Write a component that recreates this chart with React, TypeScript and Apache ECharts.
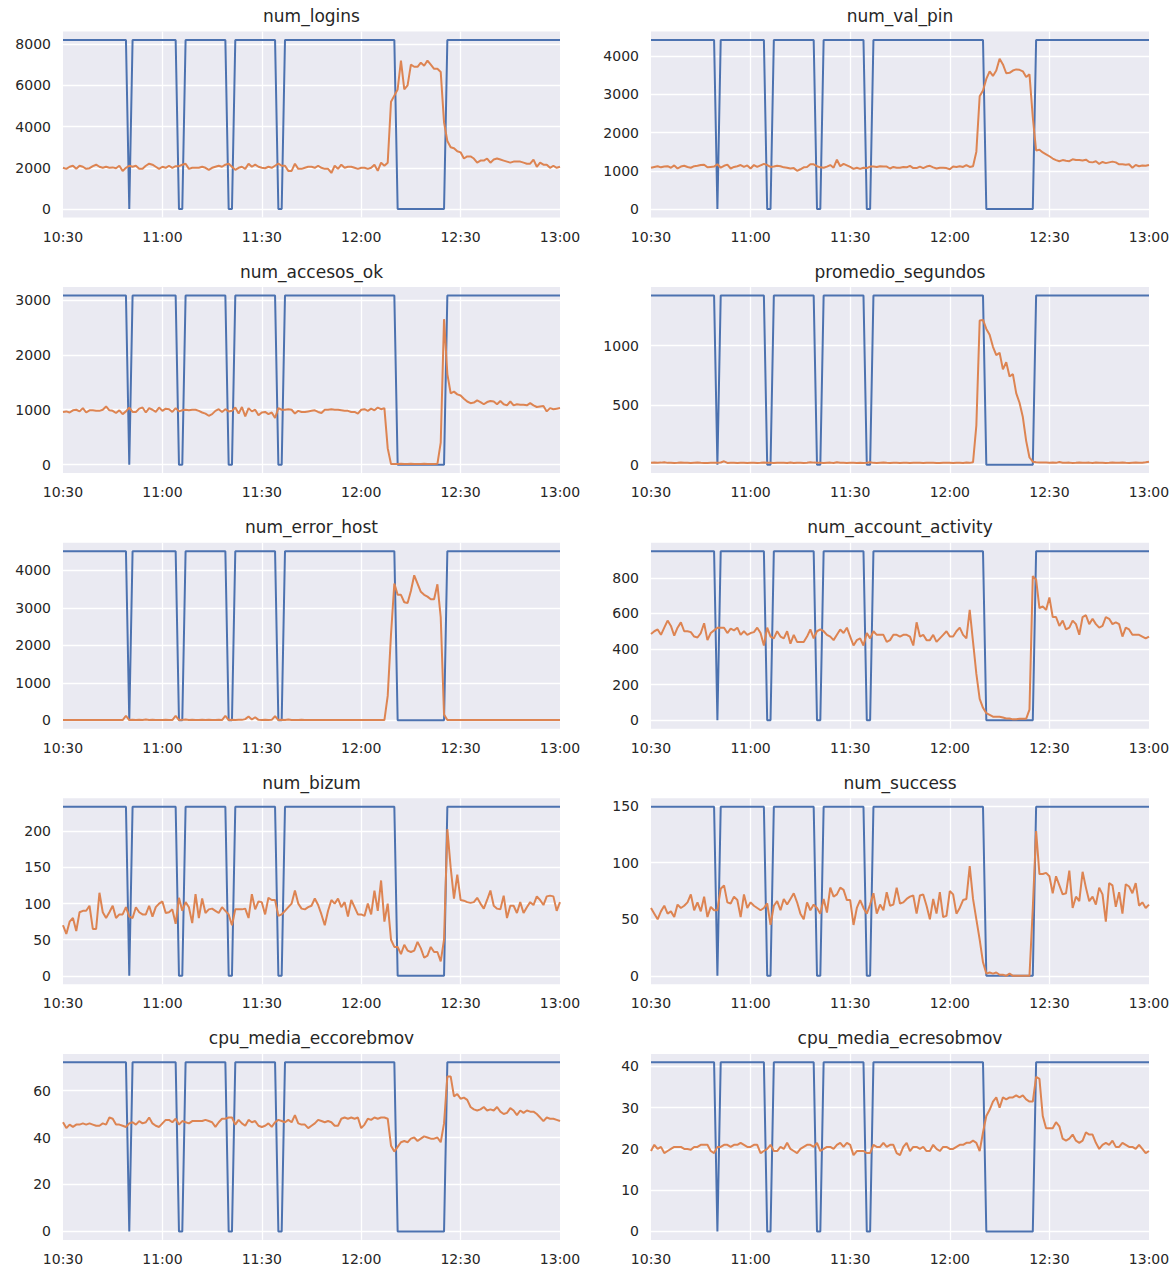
import React, { useEffect, useRef } from 'react';
import * as echarts from 'echarts';

// minutes after 10:30, one sample per minute (0..150)
const X_LABELS = ['10:30', '11:00', '11:30', '12:00', '12:30', '13:00'];

// anomaly flag: 1 = normal (drawn at the panel level), 0 = anomaly
const ANOMALY = [
  1, 1, 1, 1, 1, 1, 1, 1, 1, 1,
  1, 1, 1, 1, 1, 1, 1, 1, 1, 1,
  0, 1, 1, 1, 1, 1, 1, 1, 1, 1,
  1, 1, 1, 1, 1, 0, 0, 1, 1, 1,
  1, 1, 1, 1, 1, 1, 1, 1, 1, 1,
  0, 0, 1, 1, 1, 1, 1, 1, 1, 1,
  1, 1, 1, 1, 1, 0, 0, 1, 1, 1,
  1, 1, 1, 1, 1, 1, 1, 1, 1, 1,
  1, 1, 1, 1, 1, 1, 1, 1, 1, 1,
  1, 1, 1, 1, 1, 1, 1, 1, 1, 1,
  1, 0, 0, 0, 0, 0, 0, 0, 0, 0,
  0, 0, 0, 0, 0, 0, 1, 1, 1, 1,
  1, 1, 1, 1, 1, 1, 1, 1, 1, 1,
  1, 1, 1, 1, 1, 1, 1, 1, 1, 1,
  1, 1, 1, 1, 1, 1, 1, 1, 1, 1,
  1,
];

const NUM_LOGINS = [
  2000, 1950, 2050, 2100, 1950, 2100, 2050, 1950, 1980, 2080,
  2150, 2050, 2000, 2050, 2000, 2020, 1980, 2100, 1850, 2000,
  2100, 2050, 2100, 1950, 1950, 2100, 2200, 2150, 2050, 1950,
  2050, 2000, 2100, 2000, 2080, 2080, 2150, 2200, 1950, 2000,
  2000, 2000, 2050, 2000, 1900, 2000, 2050, 2100, 2050, 2150,
  2200, 2050, 1900, 2000, 2050, 1950, 2200, 2050, 2150, 2050,
  2000, 1980, 2050, 2000, 2100, 2200, 2100, 2100, 1850, 1850,
  2200, 1950, 1950, 2000, 2050, 2050, 2000, 2100, 2000, 1950,
  1950, 1750, 2100, 1950, 2150, 2000, 2050, 2050, 2000, 1950,
  2000, 2000, 1950, 2000, 2150, 1850, 2250, 2100, 2250, 5200,
  5500, 5800, 7200, 5800, 6000, 7000, 6900, 6900, 7100, 6950,
  7200, 7000, 6800, 6800, 6650, 4200, 3300, 3000, 2950, 2800,
  2750, 2450, 2550, 2550, 2450, 2250, 2350, 2350, 2450, 2250,
  2400, 2450, 2400, 2350, 2300, 2250, 2300, 2300, 2300, 2250,
  2200, 2200, 2400, 2050, 2250, 2150, 2150, 2000, 2100, 2000,
  2050,
];

const NUM_VAL_PIN = [
  1080, 1100, 1120, 1090, 1110, 1120, 1080, 1140, 1060, 1110,
  1130, 1100, 1080, 1120, 1130, 1150, 1160, 1090, 1100, 1110,
  1170, 1080, 1130, 1160, 1060, 1100, 1120, 1150, 1100, 1140,
  1060, 1150, 1100, 1140, 1180, 1150, 1100, 1110, 1130, 1120,
  1090, 1080, 1060, 1070, 1000, 1040, 1090, 1100, 1170, 1170,
  1120, 1090, 1080, 1110, 1150, 1080, 1290, 1120, 1180, 1140,
  1100, 1050, 1080, 1050, 1080, 1070, 1110, 1110, 1100, 1120,
  1110, 1110, 1060, 1100, 1080, 1080, 1100, 1090, 1130, 1070,
  1070, 1110, 1070, 1110, 1130, 1090, 1060, 1080, 1080, 1070,
  1040, 1110, 1100, 1120, 1100, 1150, 1100, 1120, 1500, 2950,
  3100, 3400, 3600, 3480, 3620, 3930, 3780, 3550, 3560, 3620,
  3650, 3640, 3600, 3450, 3520, 2400, 1530, 1550, 1480, 1430,
  1380, 1320, 1280, 1250, 1280, 1260, 1250, 1300, 1280, 1280,
  1270, 1290, 1230, 1220, 1250, 1180, 1230, 1200, 1220, 1240,
  1220, 1170, 1170, 1160, 1170, 1080, 1150, 1120, 1140, 1130,
  1150,
];

const NUM_ACCESOS_OK = [
  960, 970, 950, 990, 1000, 970, 1030, 950, 990, 990,
  980, 980, 1000, 1060, 990, 980, 940, 990, 920, 970,
  1040, 960, 960, 1020, 1040, 950, 1030, 1000, 960, 1040,
  980, 1020, 1010, 960, 1030, 970, 990, 1000, 990, 1000,
  1000, 980, 950, 930, 890, 920, 980, 1010, 960, 1010,
  970, 980, 1040, 930, 1050, 880, 1030, 970, 1000, 900,
  950, 960, 920, 950, 850, 1030, 1000, 1000, 1010, 1000,
  930, 980, 960, 960, 970, 980, 990, 960, 940, 1000,
  1000, 1010, 1000, 1000, 990, 980, 980, 960, 960, 930,
  1000, 1010, 980, 1020, 990, 1040, 1010, 1030, 300, 10,
  10, 10, 15, 10, 10, 15, 10, 10, 10, 15,
  10, 10, 10, 15, 400, 2650, 1650, 1300, 1330, 1280,
  1260, 1200, 1150, 1120, 1130, 1170, 1140, 1100, 1140, 1160,
  1150, 1100, 1160, 1100, 1080, 1150, 1080, 1100, 1090, 1090,
  1080, 1120, 1080, 1050, 1060, 1070, 970, 1030, 1010, 1020,
  1030,
];

const PROMEDIO_SEGUNDOS = [
  15, 18, 16, 17, 20, 15, 16, 14, 15, 17,
  16, 15, 14, 16, 18, 15, 14, 13, 15, 16,
  15, 18, 28, 14, 16, 15, 14, 16, 15, 14,
  16, 15, 14, 15, 17, 16, 15, 14, 15, 16,
  15, 14, 18, 13, 16, 15, 14, 16, 20, 17,
  16, 15, 14, 16, 17, 14, 20, 16, 15, 14,
  15, 16, 14, 15, 14, 16, 20, 15, 14, 16,
  17, 15, 14, 16, 15, 14, 15, 16, 14, 15,
  16, 15, 14, 15, 16, 15, 14, 13, 15, 16,
  15, 14, 16, 15, 14, 18, 15, 20, 330, 1210,
  1215, 1140, 1090, 990, 920, 940, 800, 860, 740, 760,
  600, 520, 400, 200, 60, 25, 20, 18, 17, 18,
  16, 17, 15, 22, 16, 15, 17, 14, 15, 18,
  16, 15, 17, 14, 18, 15, 16, 14, 15, 17,
  16, 15, 17, 15, 14, 16, 18, 15, 16, 20,
  25,
];

const NUM_ERROR_HOST = [
  5, 5, 5, 5, 5, 5, 5, 5, 5, 5,
  5, 5, 5, 5, 5, 5, 5, 5, 5, 120,
  5, 10, 5, 10, 5, 20, 5, 10, 5, 5,
  5, 10, 5, 5, 120, 5, 10, 20, 5, 10,
  5, 5, 10, 5, 10, 5, 5, 10, 5, 120,
  5, 10, 5, 10, 10, 30, 100, 20, 80, 10,
  5, 10, 5, 10, 110, 5, 10, 5, 20, 5,
  5, 5, 10, 5, 5, 5, 5, 5, 5, 5,
  5, 5, 5, 5, 5, 5, 5, 5, 5, 5,
  5, 5, 5, 5, 5, 5, 5, 5, 650, 2300,
  3650, 3350, 3350, 3150, 3130, 3450, 3870, 3650, 3430, 3350,
  3300, 3230, 3230, 3630, 2750, 150, 5, 5, 5, 5,
  5, 5, 5, 5, 5, 5, 5, 5, 5, 5,
  5, 5, 5, 5, 5, 5, 5, 5, 5, 5,
  5, 5, 5, 5, 5, 5, 5, 5, 5, 5,
  5,
];

const NUM_ACCOUNT_ACTIVITY = [
  485, 500, 510, 480, 520, 560, 530, 475, 520, 550,
  500, 500, 495, 470, 465, 490, 545, 450, 490, 505,
  520, 520, 520, 490, 515, 505, 520, 480, 500, 480,
  490, 495, 520, 490, 420, 520, 470, 460, 500, 470,
  460, 500, 430, 480, 440, 440, 440, 470, 510, 460,
  500, 510, 500, 480, 470, 450, 480, 510, 490, 520,
  470, 420, 450, 460, 420, 490, 460, 500, 480, 480,
  480, 440, 450, 480, 480, 470, 480, 480, 470, 420,
  550, 470, 480, 450, 450, 480, 440, 460, 480, 500,
  470, 470, 500, 520, 480, 460, 620, 440, 260, 120,
  70, 40, 30, 20, 20, 20, 15, 10, 10, 5,
  5, 8, 8, 8, 60, 810, 790, 630, 640, 620,
  690, 580, 580, 530, 560, 510, 520, 560, 540, 480,
  580, 590, 540, 570, 540, 520, 530, 580, 570, 540,
  550, 540, 470, 520, 510, 480, 480, 480, 470, 460,
  470,
];

const NUM_BIZUM = [
  70, 58, 75, 80, 62, 88, 90, 90, 97, 65,
  65, 115, 88, 80, 88, 97, 80, 85, 85, 95,
  82, 80, 95, 88, 85, 85, 97, 82, 95, 100,
  103, 87, 88, 92, 72, 108, 90, 102, 95, 73,
  113, 80, 107, 87, 92, 93, 90, 87, 95, 90,
  85, 70, 92, 92, 92, 93, 80, 113, 92, 103,
  102, 85, 108, 105, 105, 83, 85, 90, 95, 100,
  118, 100, 93, 92, 95, 97, 107, 98, 85, 70,
  90, 105, 100, 107, 95, 102, 82, 105, 95, 85,
  85, 83, 100, 85, 118, 90, 132, 75, 100, 50,
  40, 40, 30, 43, 35, 33, 35, 47, 38, 25,
  28, 40, 33, 33, 20, 50, 203, 150, 107, 140,
  105, 104, 102, 101, 102, 108, 100, 93, 105, 118,
  97, 93, 92, 111, 80, 97, 97, 87, 102, 87,
  95, 102, 98, 110, 105, 98, 110, 111, 110, 90,
  102,
];

const NUM_SUCCESS = [
  60, 55, 50, 57, 62, 55, 57, 52, 63, 60,
  62, 65, 72, 58, 65, 57, 70, 52, 61, 58,
  58, 77, 80, 65, 64, 70, 67, 52, 72, 60,
  65, 62, 60, 58, 60, 64, 45, 62, 66, 58,
  68, 63, 68, 73, 65, 55, 50, 65, 58, 63,
  60, 55, 68, 56, 78, 70, 72, 78, 76, 67,
  67, 45, 60, 67, 60, 55, 63, 73, 55, 63,
  58, 74, 62, 63, 78, 64, 65, 68, 70, 71,
  55, 71, 72, 62, 50, 68, 55, 74, 52, 53,
  75, 72, 55, 60, 67, 68, 97, 68, 50, 32,
  12, 2, 3, 2, 3, 1, 1, 0, 2, 0,
  0, 0, 0, 0, 0, 60, 128, 90, 90, 91,
  88, 73, 88, 80, 72, 73, 93, 60, 70, 66,
  92, 78, 66, 70, 63, 78, 72, 48, 82, 80,
  61, 74, 55, 81, 79, 73, 82, 62, 65, 60,
  63,
];

const CPU_MEDIA_ECCOREBMOV = [
  46.5, 44, 45.5, 44.5, 45.5, 45.5, 46, 45.5, 46, 45.5,
  45, 45, 46, 45.5, 48.5, 48, 45.5, 45.5, 45, 44.5,
  46, 46.5, 45.5, 47, 46, 46.5, 48.5, 46, 45, 44.5,
  46, 47.5, 47.5, 46.5, 48, 45.5, 47, 46.5, 46, 47,
  47, 47, 47, 47.5, 47, 46.5, 44.5, 46.5, 48, 48,
  48.5, 48.5, 45.5, 47.5, 46, 45, 47.5, 46.5, 47, 45,
  44.5, 45, 46, 44.5, 46.5, 47.5, 47, 46.5, 47.5, 46.5,
  49.5, 46, 45.5, 45.5, 44, 45, 46, 47.5, 47, 46.5,
  47, 46.5, 45, 45, 48, 48.5, 48, 48.5, 48, 48.5,
  44, 45.5, 48, 47.5, 48.5, 48, 48.5, 48.5, 48, 36.5,
  34, 36, 38, 38.5, 38, 39.5, 40, 38.5, 39.5, 40.5,
  40, 39.5, 39.5, 40, 38, 46, 66, 66, 57.5, 58.5,
  56.5, 57, 56, 53, 52, 51.5, 52, 53, 51.5, 52,
  51.5, 53, 51, 50, 50.5, 52.5, 51.5, 49.5, 51.5, 50.5,
  51.5, 51, 51, 50, 48.5, 47, 48.5, 48, 48, 47.5,
  47,
];

const CPU_MEDIA_ECRESOBMOV = [
  19.5, 21, 20, 20.5, 19, 19.5, 20, 20.5, 20.5, 20.5,
  20, 20, 19.8, 20.5, 20.5, 21, 21, 21, 19.5, 19,
  20.5, 20.5, 21, 21, 20.5, 21, 21, 21.5, 21, 20.5,
  20.5, 21, 21, 19, 19.5, 20, 21, 19.5, 19.5, 20.5,
  20, 21.5, 20, 19.5, 19, 20, 20.5, 21, 21, 20.5,
  21.5, 19.5, 20, 20.5, 20.5, 20, 21, 21.5, 20.5, 21.5,
  21, 18.5, 19.5, 19.5, 19.5, 19, 19, 21, 20.5, 20.5,
  21.5, 20.5, 21, 21, 19, 18.5, 20.5, 21.5, 19.5, 20.5,
  20.5, 20, 20.5, 19.5, 19.5, 21, 20, 19.5, 20.5, 20.5,
  20, 20, 20.5, 21, 21, 21.5, 21.5, 22, 21.5, 19.5,
  24, 28, 29.5, 31.5, 32.5, 30, 32.5, 32, 32.5, 32.5,
  33, 32.5, 33, 32, 31.5, 31.5, 37.5, 37, 28, 25,
  25, 25, 26.5, 25.5, 22.5, 22, 22.5, 23.5, 22, 21.5,
  22, 24, 23.5, 23.5, 21.5, 20, 21, 21.5, 21, 22,
  20.5, 20.5, 21.5, 21, 20.5, 20.5, 20, 21, 20, 19,
  19.5,
];

const TITLES = [
  'num_logins', 'num_val_pin', 'num_accesos_ok', 'promedio_segundos', 'num_error_host',
  'num_account_activity', 'num_bizum', 'num_success', 'cpu_media_eccorebmov', 'cpu_media_ecresobmov',
];
const VALUES = [
  NUM_LOGINS, NUM_VAL_PIN, NUM_ACCESOS_OK, PROMEDIO_SEGUNDOS, NUM_ERROR_HOST,
  NUM_ACCOUNT_ACTIVITY, NUM_BIZUM, NUM_SUCCESS, CPU_MEDIA_ECCOREBMOV, CPU_MEDIA_ECRESOBMOV,
];
// level at which the anomaly indicator is drawn in each panel
const LEVELS = [8200, 4420, 3080, 1420, 4515, 950, 234, 149.5, 72, 41];
// y tick step per panel
const Y_STEPS = [2000, 1000, 1000, 500, 1000, 200, 50, 50, 20, 10];

const W = 1176;
const H = 1268;
const COL_LEFT = [63, 651];
const COL_WIDTH = [497, 498];
const ROW_TOP = 31.5;
const ROW_PITCH = 255.6;
const PLOT_H = 186;

const FONT = 'DejaVu Sans';
const TEXT = '#262626';
const BLUE = '#4C72B0';
const ORANGE = '#DD8452';

export default function App() {
  const ref = useRef<HTMLDivElement>(null);
  useEffect(() => {
    if (!ref.current) return;
    const chart = echarts.init(ref.current, null, { renderer: 'svg', width: W, height: H });
    const grid: any[] = [];
    const xAxis: any[] = [];
    const yAxis: any[] = [];
    const series: any[] = [];
    const title: any[] = [];
    TITLES.forEach((name, i) => {
      const col = i % 2;
      const row = Math.floor(i / 2);
      const top = ROW_TOP + row * ROW_PITCH;
      const vals = VALUES[i];
      const level = LEVELS[i];
      const step = Y_STEPS[i];
      const hi = Math.max(level, ...vals);
      const lo = Math.min(0, ...vals);
      const pad = (hi - lo) * 0.05;
      grid.push({
        left: COL_LEFT[col], top, width: COL_WIDTH[col], height: PLOT_H,
        show: true, backgroundColor: '#EAEAF2', borderWidth: 0, containLabel: false,
      });
      xAxis.push({
        type: 'value', gridIndex: i, min: 0, max: 150, interval: 30,
        axisLine: { show: false }, axisTick: { show: false },
        splitLine: { show: true, showMinLine: false, showMaxLine: false, lineStyle: { color: '#ffffff', width: 1.3 } },
        axisLabel: {
          margin: 12, color: TEXT, fontSize: 14, fontFamily: FONT,
          formatter: (v: number) => X_LABELS[Math.round(v / 30)] ?? '',
        },
      });
      yAxis.push({
        type: 'value', gridIndex: i, min: lo - pad, max: hi + pad,
        minInterval: step, maxInterval: step,
        axisLine: { show: false }, axisTick: { show: false },
        splitLine: { show: true, showMinLine: false, showMaxLine: false, lineStyle: { color: '#ffffff', width: 1.3 } },
        axisLabel: {
          margin: 12, color: TEXT, fontSize: 14, fontFamily: FONT,
          showMinLabel: false, showMaxLabel: false,
          formatter: (v: number) => {
            const r = v / step;
            return Math.abs(r - Math.round(r)) < 1e-6 ? String(Math.round(r) * step) : '';
          },
        },
      });
      series.push({
        type: 'line', xAxisIndex: i, yAxisIndex: i, symbol: 'none', silent: true,
        data: ANOMALY.map((a, k) => [k, a * level]),
        lineStyle: { color: BLUE, width: 2 }, itemStyle: { color: BLUE }, z: 2,
      });
      series.push({
        type: 'line', xAxisIndex: i, yAxisIndex: i, symbol: 'none', silent: true,
        data: vals.map((v, k) => [k, v]),
        lineStyle: { color: ORANGE, width: 2 }, itemStyle: { color: ORANGE }, z: 3,
      });
      title.push({
        text: name, left: COL_LEFT[col] + COL_WIDTH[col] / 2, top: top - 24,
        textAlign: 'center', padding: 0,
        textStyle: { fontFamily: FONT, fontSize: 17, fontWeight: 'normal', color: TEXT },
      });
    });
    chart.setOption({
      animation: false,
      backgroundColor: '#ffffff',
      textStyle: { fontFamily: FONT },
      title, grid, xAxis, yAxis, series,
    });
    return () => chart.dispose();
  }, []);
  return <div ref={ref} style={{ position: 'absolute', left: 0, top: 0, width: W, height: H }} />;
}
